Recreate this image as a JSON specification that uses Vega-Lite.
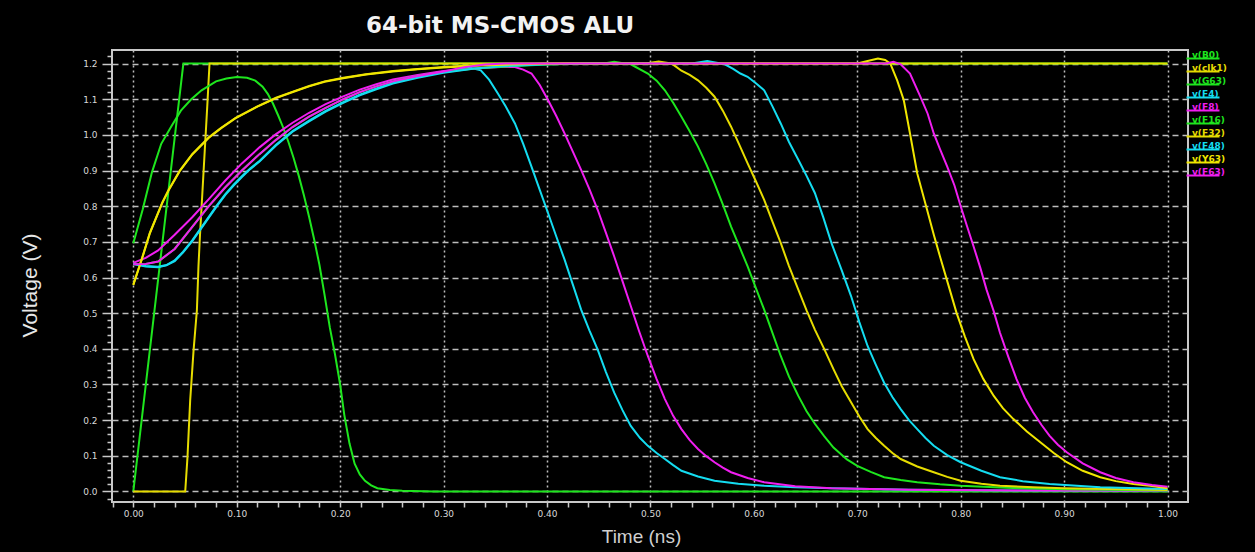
{
  "$schema": "https://vega.github.io/schema/vega-lite/v6.json",
  "width": 1076,
  "height": 452,
  "autosize": {"type": "none"},
  "padding": {"left": 112, "top": 50, "right": 67, "bottom": 50},
  "background": "#000000",
  "title": {"text": "64-bit MS-CMOS ALU", "anchor": "middle", "frame": "group", "dx": -150, "offset": 12, "font": "DejaVu Sans", "fontSize": 23, "fontWeight": "bold", "color": "#f2f2f2"},
  "config": {"view": {"stroke": "#c8c8c8", "strokeWidth": 2, "fill": "#000000"}},
  "data": {"values": [
    {"s":"B0","t":0,"v":0},{"s":"B0","t":0.0484,"v":1.2},{"s":"B0","t":1.0,"v":1.2},
    {"s":"clk1","t":0,"v":0},{"s":"clk1","t":0.0502,"v":0},{"s":"clk1","t":0.0524,"v":0.097},{"s":"clk1","t":0.055,"v":0.256},{"s":"clk1","t":0.0583,"v":0.397},{"s":"clk1","t":0.0615,"v":0.509},{"s":"clk1","t":0.063,"v":0.631},{"s":"clk1","t":0.0645,"v":0.72},{"s":"clk1","t":0.068,"v":0.9},{"s":"clk1","t":0.0715,"v":1.08},{"s":"clk1","t":0.0737,"v":1.2},{"s":"clk1","t":1.0,"v":1.2},
    {"s":"G63","t":0,"v":0.696},{"s":"G63","t":0.009,"v":0.79},{"s":"G63","t":0.018,"v":0.895},{"s":"G63","t":0.027,"v":0.975},{"s":"G63","t":0.037,"v":1.025},{"s":"G63","t":0.046,"v":1.068},{"s":"G63","t":0.056,"v":1.1},{"s":"G63","t":0.066,"v":1.125},{"s":"G63","t":0.08,"v":1.15},{"s":"G63","t":0.09,"v":1.158},{"s":"G63","t":0.1,"v":1.162},{"s":"G63","t":0.11,"v":1.16},{"s":"G63","t":0.118,"v":1.152},{"s":"G63","t":0.125,"v":1.135},{"s":"G63","t":0.13,"v":1.115},{"s":"G63","t":0.135,"v":1.088},{"s":"G63","t":0.14,"v":1.055},{"s":"G63","t":0.145,"v":1.02},{"s":"G63","t":0.15,"v":0.98},{"s":"G63","t":0.155,"v":0.935},{"s":"G63","t":0.16,"v":0.885},{"s":"G63","t":0.165,"v":0.83},{"s":"G63","t":0.17,"v":0.77},{"s":"G63","t":0.175,"v":0.705},{"s":"G63","t":0.18,"v":0.635},{"s":"G63","t":0.185,"v":0.55},{"s":"G63","t":0.19,"v":0.46},{"s":"G63","t":0.195,"v":0.385},{"s":"G63","t":0.2,"v":0.3},{"s":"G63","t":0.204,"v":0.215},{"s":"G63","t":0.209,"v":0.135},{"s":"G63","t":0.214,"v":0.078},{"s":"G63","t":0.219,"v":0.048},{"s":"G63","t":0.224,"v":0.03},{"s":"G63","t":0.23,"v":0.017},{"s":"G63","t":0.236,"v":0.009},{"s":"G63","t":0.248,"v":0.004},{"s":"G63","t":0.26,"v":0.002},{"s":"G63","t":0.29,"v":0},{"s":"G63","t":1.0,"v":0},
    {"s":"F4","t":0,"v":0.639},{"s":"F4","t":0.012,"v":0.632},{"s":"F4","t":0.024,"v":0.63},{"s":"F4","t":0.032,"v":0.635},{"s":"F4","t":0.04,"v":0.648},{"s":"F4","t":0.048,"v":0.672},{"s":"F4","t":0.057,"v":0.704},{"s":"F4","t":0.065,"v":0.737},{"s":"F4","t":0.073,"v":0.77},{"s":"F4","t":0.081,"v":0.803},{"s":"F4","t":0.089,"v":0.834},{"s":"F4","t":0.097,"v":0.86},{"s":"F4","t":0.105,"v":0.884},{"s":"F4","t":0.113,"v":0.906},{"s":"F4","t":0.122,"v":0.927},{"s":"F4","t":0.138,"v":0.972},{"s":"F4","t":0.154,"v":1.011},{"s":"F4","t":0.17,"v":1.04},{"s":"F4","t":0.186,"v":1.067},{"s":"F4","t":0.203,"v":1.092},{"s":"F4","t":0.219,"v":1.113},{"s":"F4","t":0.235,"v":1.13},{"s":"F4","t":0.251,"v":1.146},{"s":"F4","t":0.275,"v":1.162},{"s":"F4","t":0.3,"v":1.176},{"s":"F4","t":0.315,"v":1.184},{"s":"F4","t":0.326,"v":1.188},{"s":"F4","t":0.336,"v":1.181},{"s":"F4","t":0.344,"v":1.155},{"s":"F4","t":0.3525,"v":1.116},{"s":"F4","t":0.36,"v":1.08},{"s":"F4","t":0.369,"v":1.032},{"s":"F4","t":0.377,"v":0.975},{"s":"F4","t":0.385,"v":0.911},{"s":"F4","t":0.393,"v":0.846},{"s":"F4","t":0.401,"v":0.781},{"s":"F4","t":0.409,"v":0.715},{"s":"F4","t":0.417,"v":0.65},{"s":"F4","t":0.425,"v":0.58},{"s":"F4","t":0.433,"v":0.51},{"s":"F4","t":0.441,"v":0.452},{"s":"F4","t":0.449,"v":0.398},{"s":"F4","t":0.457,"v":0.335},{"s":"F4","t":0.465,"v":0.277},{"s":"F4","t":0.473,"v":0.228},{"s":"F4","t":0.481,"v":0.184},{"s":"F4","t":0.49,"v":0.15},{"s":"F4","t":0.4975,"v":0.128},{"s":"F4","t":0.506,"v":0.108},{"s":"F4","t":0.514,"v":0.091},{"s":"F4","t":0.522,"v":0.074},{"s":"F4","t":0.53,"v":0.058},{"s":"F4","t":0.546,"v":0.042},{"s":"F4","t":0.562,"v":0.03},{"s":"F4","t":0.585,"v":0.022},{"s":"F4","t":0.61,"v":0.016},{"s":"F4","t":0.64,"v":0.012},{"s":"F4","t":0.675,"v":0.009},{"s":"F4","t":0.75,"v":0.005},{"s":"F4","t":0.85,"v":0.003},{"s":"F4","t":1.0,"v":0.002},
    {"s":"F8","t":0,"v":0.641},{"s":"F8","t":0.012,"v":0.655},{"s":"F8","t":0.024,"v":0.676},{"s":"F8","t":0.04,"v":0.72},{"s":"F8","t":0.057,"v":0.769},{"s":"F8","t":0.073,"v":0.82},{"s":"F8","t":0.089,"v":0.872},{"s":"F8","t":0.105,"v":0.92},{"s":"F8","t":0.122,"v":0.965},{"s":"F8","t":0.138,"v":1.002},{"s":"F8","t":0.154,"v":1.034},{"s":"F8","t":0.17,"v":1.062},{"s":"F8","t":0.186,"v":1.086},{"s":"F8","t":0.203,"v":1.108},{"s":"F8","t":0.219,"v":1.127},{"s":"F8","t":0.235,"v":1.142},{"s":"F8","t":0.251,"v":1.155},{"s":"F8","t":0.275,"v":1.168},{"s":"F8","t":0.3,"v":1.179},{"s":"F8","t":0.33,"v":1.186},{"s":"F8","t":0.355,"v":1.19},{"s":"F8","t":0.369,"v":1.19},{"s":"F8","t":0.377,"v":1.183},{"s":"F8","t":0.385,"v":1.172},{"s":"F8","t":0.393,"v":1.14},{"s":"F8","t":0.401,"v":1.098},{"s":"F8","t":0.409,"v":1.053},{"s":"F8","t":0.417,"v":1.004},{"s":"F8","t":0.425,"v":0.953},{"s":"F8","t":0.433,"v":0.902},{"s":"F8","t":0.441,"v":0.848},{"s":"F8","t":0.449,"v":0.79},{"s":"F8","t":0.457,"v":0.725},{"s":"F8","t":0.465,"v":0.659},{"s":"F8","t":0.473,"v":0.59},{"s":"F8","t":0.481,"v":0.52},{"s":"F8","t":0.489,"v":0.45},{"s":"F8","t":0.4975,"v":0.38},{"s":"F8","t":0.506,"v":0.315},{"s":"F8","t":0.514,"v":0.259},{"s":"F8","t":0.522,"v":0.212},{"s":"F8","t":0.53,"v":0.175},{"s":"F8","t":0.538,"v":0.144},{"s":"F8","t":0.546,"v":0.119},{"s":"F8","t":0.554,"v":0.099},{"s":"F8","t":0.562,"v":0.082},{"s":"F8","t":0.57,"v":0.067},{"s":"F8","t":0.578,"v":0.054},{"s":"F8","t":0.594,"v":0.038},{"s":"F8","t":0.61,"v":0.026},{"s":"F8","t":0.64,"v":0.015},{"s":"F8","t":0.675,"v":0.009},{"s":"F8","t":0.75,"v":0.005},{"s":"F8","t":0.85,"v":0.003},{"s":"F8","t":1.0,"v":0.002},
    {"s":"F16","t":0,"v":0.637},{"s":"F16","t":0.012,"v":0.638},{"s":"F16","t":0.024,"v":0.645},{"s":"F16","t":0.04,"v":0.68},{"s":"F16","t":0.057,"v":0.742},{"s":"F16","t":0.073,"v":0.8},{"s":"F16","t":0.089,"v":0.853},{"s":"F16","t":0.105,"v":0.9},{"s":"F16","t":0.122,"v":0.946},{"s":"F16","t":0.138,"v":0.986},{"s":"F16","t":0.154,"v":1.022},{"s":"F16","t":0.17,"v":1.051},{"s":"F16","t":0.186,"v":1.076},{"s":"F16","t":0.203,"v":1.1},{"s":"F16","t":0.219,"v":1.12},{"s":"F16","t":0.235,"v":1.136},{"s":"F16","t":0.251,"v":1.15},{"s":"F16","t":0.275,"v":1.165},{"s":"F16","t":0.3,"v":1.176},{"s":"F16","t":0.33,"v":1.186},{"s":"F16","t":0.36,"v":1.192},{"s":"F16","t":0.4,"v":1.197},{"s":"F16","t":0.44,"v":1.2},{"s":"F16","t":0.455,"v":1.2},{"s":"F16","t":0.465,"v":1.205},{"s":"F16","t":0.475,"v":1.2},{"s":"F16","t":0.481,"v":1.198},{"s":"F16","t":0.4975,"v":1.172},{"s":"F16","t":0.506,"v":1.152},{"s":"F16","t":0.514,"v":1.125},{"s":"F16","t":0.522,"v":1.09},{"s":"F16","t":0.53,"v":1.051},{"s":"F16","t":0.538,"v":1.01},{"s":"F16","t":0.546,"v":0.967},{"s":"F16","t":0.554,"v":0.918},{"s":"F16","t":0.562,"v":0.864},{"s":"F16","t":0.57,"v":0.805},{"s":"F16","t":0.578,"v":0.743},{"s":"F16","t":0.586,"v":0.687},{"s":"F16","t":0.594,"v":0.631},{"s":"F16","t":0.602,"v":0.57},{"s":"F16","t":0.61,"v":0.51},{"s":"F16","t":0.618,"v":0.445},{"s":"F16","t":0.626,"v":0.38},{"s":"F16","t":0.634,"v":0.322},{"s":"F16","t":0.643,"v":0.268},{"s":"F16","t":0.651,"v":0.225},{"s":"F16","t":0.659,"v":0.19},{"s":"F16","t":0.668,"v":0.155},{"s":"F16","t":0.677,"v":0.123},{"s":"F16","t":0.69,"v":0.09},{"s":"F16","t":0.7,"v":0.072},{"s":"F16","t":0.713,"v":0.055},{"s":"F16","t":0.726,"v":0.04},{"s":"F16","t":0.742,"v":0.032},{"s":"F16","t":0.758,"v":0.026},{"s":"F16","t":0.78,"v":0.02},{"s":"F16","t":0.8,"v":0.016},{"s":"F16","t":0.85,"v":0.01},{"s":"F16","t":0.9,"v":0.006},{"s":"F16","t":1.0,"v":0.003},
    {"s":"F32","t":0,"v":0.58},{"s":"F32","t":0.008,"v":0.65},{"s":"F32","t":0.016,"v":0.725},{"s":"F32","t":0.028,"v":0.81},{"s":"F32","t":0.034,"v":0.845},{"s":"F32","t":0.045,"v":0.9},{"s":"F32","t":0.057,"v":0.946},{"s":"F32","t":0.073,"v":0.993},{"s":"F32","t":0.085,"v":1.02},{"s":"F32","t":0.099,"v":1.048},{"s":"F32","t":0.12,"v":1.08},{"s":"F32","t":0.138,"v":1.104},{"s":"F32","t":0.155,"v":1.122},{"s":"F32","t":0.17,"v":1.137},{"s":"F32","t":0.185,"v":1.15},{"s":"F32","t":0.203,"v":1.16},{"s":"F32","t":0.225,"v":1.17},{"s":"F32","t":0.251,"v":1.179},{"s":"F32","t":0.275,"v":1.185},{"s":"F32","t":0.3,"v":1.19},{"s":"F32","t":0.33,"v":1.195},{"s":"F32","t":0.37,"v":1.198},{"s":"F32","t":0.42,"v":1.2},{"s":"F32","t":0.495,"v":1.2},{"s":"F32","t":0.508,"v":1.206},{"s":"F32","t":0.52,"v":1.2},{"s":"F32","t":0.523,"v":1.195},{"s":"F32","t":0.53,"v":1.18},{"s":"F32","t":0.538,"v":1.168},{"s":"F32","t":0.546,"v":1.153},{"s":"F32","t":0.554,"v":1.132},{"s":"F32","t":0.562,"v":1.107},{"s":"F32","t":0.57,"v":1.068},{"s":"F32","t":0.578,"v":1.023},{"s":"F32","t":0.586,"v":0.972},{"s":"F32","t":0.594,"v":0.92},{"s":"F32","t":0.602,"v":0.87},{"s":"F32","t":0.61,"v":0.818},{"s":"F32","t":0.618,"v":0.757},{"s":"F32","t":0.626,"v":0.697},{"s":"F32","t":0.634,"v":0.632},{"s":"F32","t":0.643,"v":0.566},{"s":"F32","t":0.651,"v":0.508},{"s":"F32","t":0.659,"v":0.454},{"s":"F32","t":0.668,"v":0.4},{"s":"F32","t":0.677,"v":0.343},{"s":"F32","t":0.685,"v":0.295},{"s":"F32","t":0.694,"v":0.25},{"s":"F32","t":0.702,"v":0.21},{"s":"F32","t":0.71,"v":0.175},{"s":"F32","t":0.718,"v":0.15},{"s":"F32","t":0.726,"v":0.128},{"s":"F32","t":0.734,"v":0.108},{"s":"F32","t":0.742,"v":0.091},{"s":"F32","t":0.758,"v":0.07},{"s":"F32","t":0.774,"v":0.054},{"s":"F32","t":0.787,"v":0.041},{"s":"F32","t":0.8,"v":0.03},{"s":"F32","t":0.82,"v":0.022},{"s":"F32","t":0.838,"v":0.016},{"s":"F32","t":0.87,"v":0.012},{"s":"F32","t":0.9,"v":0.009},{"s":"F32","t":1.0,"v":0.004},
    {"s":"F48","t":0,"v":0.638},{"s":"F48","t":0.012,"v":0.631},{"s":"F48","t":0.024,"v":0.629},{"s":"F48","t":0.032,"v":0.634},{"s":"F48","t":0.04,"v":0.646},{"s":"F48","t":0.048,"v":0.67},{"s":"F48","t":0.057,"v":0.702},{"s":"F48","t":0.065,"v":0.735},{"s":"F48","t":0.073,"v":0.768},{"s":"F48","t":0.081,"v":0.801},{"s":"F48","t":0.089,"v":0.832},{"s":"F48","t":0.097,"v":0.858},{"s":"F48","t":0.105,"v":0.882},{"s":"F48","t":0.113,"v":0.904},{"s":"F48","t":0.122,"v":0.925},{"s":"F48","t":0.138,"v":0.97},{"s":"F48","t":0.154,"v":1.009},{"s":"F48","t":0.17,"v":1.038},{"s":"F48","t":0.186,"v":1.065},{"s":"F48","t":0.203,"v":1.09},{"s":"F48","t":0.219,"v":1.111},{"s":"F48","t":0.235,"v":1.128},{"s":"F48","t":0.251,"v":1.144},{"s":"F48","t":0.275,"v":1.16},{"s":"F48","t":0.3,"v":1.174},{"s":"F48","t":0.33,"v":1.186},{"s":"F48","t":0.36,"v":1.193},{"s":"F48","t":0.4,"v":1.198},{"s":"F48","t":0.44,"v":1.2},{"s":"F48","t":0.54,"v":1.2},{"s":"F48","t":0.555,"v":1.207},{"s":"F48","t":0.568,"v":1.2},{"s":"F48","t":0.572,"v":1.198},{"s":"F48","t":0.58,"v":1.185},{"s":"F48","t":0.587,"v":1.172},{"s":"F48","t":0.594,"v":1.163},{"s":"F48","t":0.602,"v":1.145},{"s":"F48","t":0.61,"v":1.125},{"s":"F48","t":0.618,"v":1.08},{"s":"F48","t":0.626,"v":1.032},{"s":"F48","t":0.634,"v":0.98},{"s":"F48","t":0.643,"v":0.93},{"s":"F48","t":0.651,"v":0.885},{"s":"F48","t":0.659,"v":0.837},{"s":"F48","t":0.667,"v":0.77},{"s":"F48","t":0.675,"v":0.697},{"s":"F48","t":0.685,"v":0.62},{"s":"F48","t":0.694,"v":0.548},{"s":"F48","t":0.702,"v":0.475},{"s":"F48","t":0.71,"v":0.408},{"s":"F48","t":0.718,"v":0.355},{"s":"F48","t":0.726,"v":0.305},{"s":"F48","t":0.734,"v":0.265},{"s":"F48","t":0.742,"v":0.231},{"s":"F48","t":0.75,"v":0.2},{"s":"F48","t":0.758,"v":0.175},{"s":"F48","t":0.766,"v":0.15},{"s":"F48","t":0.774,"v":0.128},{"s":"F48","t":0.787,"v":0.102},{"s":"F48","t":0.8,"v":0.082},{"s":"F48","t":0.82,"v":0.058},{"s":"F48","t":0.838,"v":0.04},{"s":"F48","t":0.86,"v":0.029},{"s":"F48","t":0.886,"v":0.021},{"s":"F48","t":0.935,"v":0.012},{"s":"F48","t":1.0,"v":0.007},
    {"s":"Y63","t":0,"v":0.579},{"s":"Y63","t":0.008,"v":0.649},{"s":"Y63","t":0.016,"v":0.724},{"s":"Y63","t":0.028,"v":0.809},{"s":"Y63","t":0.034,"v":0.844},{"s":"Y63","t":0.045,"v":0.899},{"s":"Y63","t":0.057,"v":0.945},{"s":"Y63","t":0.073,"v":0.992},{"s":"Y63","t":0.085,"v":1.019},{"s":"Y63","t":0.099,"v":1.047},{"s":"Y63","t":0.12,"v":1.079},{"s":"Y63","t":0.138,"v":1.103},{"s":"Y63","t":0.155,"v":1.121},{"s":"Y63","t":0.17,"v":1.136},{"s":"Y63","t":0.185,"v":1.149},{"s":"Y63","t":0.203,"v":1.159},{"s":"Y63","t":0.225,"v":1.169},{"s":"Y63","t":0.251,"v":1.178},{"s":"Y63","t":0.275,"v":1.184},{"s":"Y63","t":0.3,"v":1.189},{"s":"Y63","t":0.33,"v":1.194},{"s":"Y63","t":0.37,"v":1.198},{"s":"Y63","t":0.42,"v":1.2},{"s":"Y63","t":0.7,"v":1.2},{"s":"Y63","t":0.71,"v":1.207},{"s":"Y63","t":0.72,"v":1.214},{"s":"Y63","t":0.727,"v":1.21},{"s":"Y63","t":0.732,"v":1.2},{"s":"Y63","t":0.7386,"v":1.153},{"s":"Y63","t":0.745,"v":1.097},{"s":"Y63","t":0.751,"v":1.004},{"s":"Y63","t":0.758,"v":0.892},{"s":"Y63","t":0.7675,"v":0.79},{"s":"Y63","t":0.774,"v":0.72},{"s":"Y63","t":0.78,"v":0.659},{"s":"Y63","t":0.788,"v":0.58},{"s":"Y63","t":0.796,"v":0.501},{"s":"Y63","t":0.804,"v":0.435},{"s":"Y63","t":0.8125,"v":0.371},{"s":"Y63","t":0.822,"v":0.315},{"s":"Y63","t":0.832,"v":0.268},{"s":"Y63","t":0.841,"v":0.233},{"s":"Y63","t":0.851,"v":0.203},{"s":"Y63","t":0.864,"v":0.168},{"s":"Y63","t":0.877,"v":0.138},{"s":"Y63","t":0.89,"v":0.108},{"s":"Y63","t":0.9026,"v":0.082},{"s":"Y63","t":0.918,"v":0.058},{"s":"Y63","t":0.935,"v":0.04},{"s":"Y63","t":0.95,"v":0.029},{"s":"Y63","t":0.967,"v":0.021},{"s":"Y63","t":0.985,"v":0.015},{"s":"Y63","t":1.0,"v":0.009},
    {"s":"F63","t":0,"v":0.637},{"s":"F63","t":0.012,"v":0.638},{"s":"F63","t":0.024,"v":0.645},{"s":"F63","t":0.04,"v":0.68},{"s":"F63","t":0.057,"v":0.742},{"s":"F63","t":0.073,"v":0.8},{"s":"F63","t":0.089,"v":0.853},{"s":"F63","t":0.105,"v":0.9},{"s":"F63","t":0.122,"v":0.946},{"s":"F63","t":0.138,"v":0.986},{"s":"F63","t":0.154,"v":1.022},{"s":"F63","t":0.17,"v":1.051},{"s":"F63","t":0.186,"v":1.076},{"s":"F63","t":0.203,"v":1.1},{"s":"F63","t":0.219,"v":1.12},{"s":"F63","t":0.235,"v":1.136},{"s":"F63","t":0.251,"v":1.15},{"s":"F63","t":0.275,"v":1.165},{"s":"F63","t":0.3,"v":1.178},{"s":"F63","t":0.32,"v":1.19},{"s":"F63","t":0.34,"v":1.197},{"s":"F63","t":0.36,"v":1.2},{"s":"F63","t":0.728,"v":1.2},{"s":"F63","t":0.735,"v":1.205},{"s":"F63","t":0.742,"v":1.198},{"s":"F63","t":0.751,"v":1.172},{"s":"F63","t":0.761,"v":1.107},{"s":"F63","t":0.768,"v":1.06},{"s":"F63","t":0.774,"v":1.004},{"s":"F63","t":0.78,"v":0.96},{"s":"F63","t":0.787,"v":0.911},{"s":"F63","t":0.794,"v":0.858},{"s":"F63","t":0.8,"v":0.8},{"s":"F63","t":0.806,"v":0.745},{"s":"F63","t":0.8125,"v":0.687},{"s":"F63","t":0.819,"v":0.627},{"s":"F63","t":0.825,"v":0.566},{"s":"F63","t":0.832,"v":0.505},{"s":"F63","t":0.838,"v":0.445},{"s":"F63","t":0.846,"v":0.378},{"s":"F63","t":0.854,"v":0.315},{"s":"F63","t":0.862,"v":0.263},{"s":"F63","t":0.87,"v":0.222},{"s":"F63","t":0.878,"v":0.187},{"s":"F63","t":0.886,"v":0.156},{"s":"F63","t":0.894,"v":0.131},{"s":"F63","t":0.9026,"v":0.11},{"s":"F63","t":0.918,"v":0.079},{"s":"F63","t":0.935,"v":0.054},{"s":"F63","t":0.95,"v":0.038},{"s":"F63","t":0.967,"v":0.026},{"s":"F63","t":0.985,"v":0.018},{"s":"F63","t":1.0,"v":0.013}
  ]},
  "encoding": {
    "x": {
      "field": "t", "type": "quantitative",
      "scale": {"domain": [-0.0206, 1.0198], "nice": false, "zero": false},
      "axis": {
        "title": "Time (ns)",
        "values": [-0.02,0,0.02,0.04,0.06,0.08,0.1,0.12,0.14,0.16,0.18,0.2,0.22,0.24,0.26,0.28,0.3,0.32,0.34,0.36,0.38,0.4,0.42,0.44,0.46,0.48,0.5,0.52,0.54,0.56,0.58,0.6,0.62,0.64,0.66,0.68,0.7,0.72,0.74,0.76,0.78,0.8,0.82,0.84,0.86,0.88,0.9,0.92,0.94,0.96,0.98,1.0,1.02],
        "labelExpr": "abs(datum.value*10 - round(datum.value*10)) < 0.01 && datum.value > -0.01 ? format(datum.value, '.2f') : ''",
        "labelFont": "DejaVu Sans", "labelFontSize": 9, "labelColor": "#d8d8d8",
        "labelPadding": 2, "labelFlush": false, "labelOverlap": false,
        "tickColor": "#c8c8c8", "tickSize": 5, "tickWidth": 1.5,
        "domain": false,
        "grid": true, "gridColor": "#bdbdbd", "gridWidth": 1.5, "gridDash": [2, 3],
        "gridOpacity": {"condition": {"test": "abs(datum.value*10 - round(datum.value*10)) < 0.01", "value": 1}, "value": 0},
        "titleFont": "Liberation Sans", "titleFontSize": 19, "titleFontWeight": "normal", "titleColor": "#d0d0d0",
        "titleX": 529, "titleY": 34, "titleAlign": "center", "titleBaseline": "middle"
      }
    },
    "y": {
      "field": "v", "type": "quantitative",
      "scale": {"domain": [-0.0295, 1.238], "nice": false, "zero": false},
      "axis": {
        "title": "Voltage (V)",
        "values": [-0.02,0,0.02,0.04,0.06,0.08,0.1,0.12,0.14,0.16,0.18,0.2,0.22,0.24,0.26,0.28,0.3,0.32,0.34,0.36,0.38,0.4,0.42,0.44,0.46,0.48,0.5,0.52,0.54,0.56,0.58,0.6,0.62,0.64,0.66,0.68,0.7,0.72,0.74,0.76,0.78,0.8,0.82,0.84,0.86,0.88,0.9,0.92,0.94,0.96,0.98,1.0,1.02,1.04,1.06,1.08,1.1,1.12,1.14,1.16,1.18,1.2,1.22],
        "labelExpr": "abs(datum.value*10 - round(datum.value*10)) < 0.01 && datum.value > -0.01 ? format(datum.value, '.1f') : ''",
        "labelFont": "DejaVu Sans", "labelFontSize": 9, "labelColor": "#d8d8d8",
        "labelPadding": 5, "labelFlush": false, "labelOverlap": false,
        "tickColor": "#c8c8c8", "tickWidth": 1.5,
        "tickSize": {"condition": {"test": "abs(datum.value*10 - round(datum.value*10)) < 0.01", "value": 10}, "value": 5},
        "domain": false,
        "grid": true, "gridColor": "#bdbdbd", "gridWidth": 1.5, "gridDash": [6, 4],
        "gridOpacity": {"condition": {"test": "abs(datum.value*10 - round(datum.value*10)) < 0.01", "value": 1}, "value": 0},
        "titleFont": "Liberation Sans", "titleFontSize": 21, "titleFontWeight": "normal", "titleColor": "#e6e6e6",
        "titleX": -82, "titleY": 235, "titleAlign": "center", "titleBaseline": "middle", "titleAngle": -90
      }
    },
    "color": {
      "field": "s", "type": "nominal",
      "scale": {
        "domain": ["B0","clk1","G63","F4","F8","F16","F32","F48","Y63","F63"],
        "range": ["#1ee61e","#e6dc00","#1ee61e","#14dcf0","#f01ef0","#1ee61e","#e6dc00","#14dcf0","#f0e600","#f01ef0"]
      },
      "legend": {
        "orient": "none", "legendX": 1069, "legendY": 0, "title": null, "padding": 0,
        "symbolType": "M1,4H34", "symbolSize": 4, "symbolStrokeWidth": 2,
        "labelExpr": "'v(' + datum.label + ')'",
        "labelFont": "DejaVu Sans", "labelFontSize": 9, "labelFontWeight": "bold", "labelOffset": 2,
        "rowPadding": -1.4,
        "encode": {"labels": {"update": {"fill": {"scale": "color", "field": "value"}}}}
      }
    }
  },
  "layer": [
    {"transform": [{"filter": "datum.s === 'B0'"}], "mark": {"type": "line", "strokeWidth": 2, "clip": true}},
    {"transform": [{"filter": "datum.s === 'clk1'"}], "mark": {"type": "line", "strokeWidth": 2, "clip": true}},
    {"transform": [{"filter": "datum.s === 'G63'"}], "mark": {"type": "line", "strokeWidth": 2, "clip": true}},
    {"transform": [{"filter": "datum.s === 'F4'"}], "mark": {"type": "line", "strokeWidth": 2, "clip": true}},
    {"transform": [{"filter": "datum.s === 'F8'"}], "mark": {"type": "line", "strokeWidth": 2, "clip": true}},
    {"transform": [{"filter": "datum.s === 'F16'"}], "mark": {"type": "line", "strokeWidth": 2, "clip": true}},
    {"transform": [{"filter": "datum.s === 'F32'"}], "mark": {"type": "line", "strokeWidth": 2, "clip": true}},
    {"transform": [{"filter": "datum.s === 'F48'"}], "mark": {"type": "line", "strokeWidth": 2, "clip": true}},
    {"transform": [{"filter": "datum.s === 'Y63'"}], "mark": {"type": "line", "strokeWidth": 2, "clip": true}},
    {"transform": [{"filter": "datum.s === 'F63'"}], "mark": {"type": "line", "strokeWidth": 2, "clip": true}}
  ]
}
